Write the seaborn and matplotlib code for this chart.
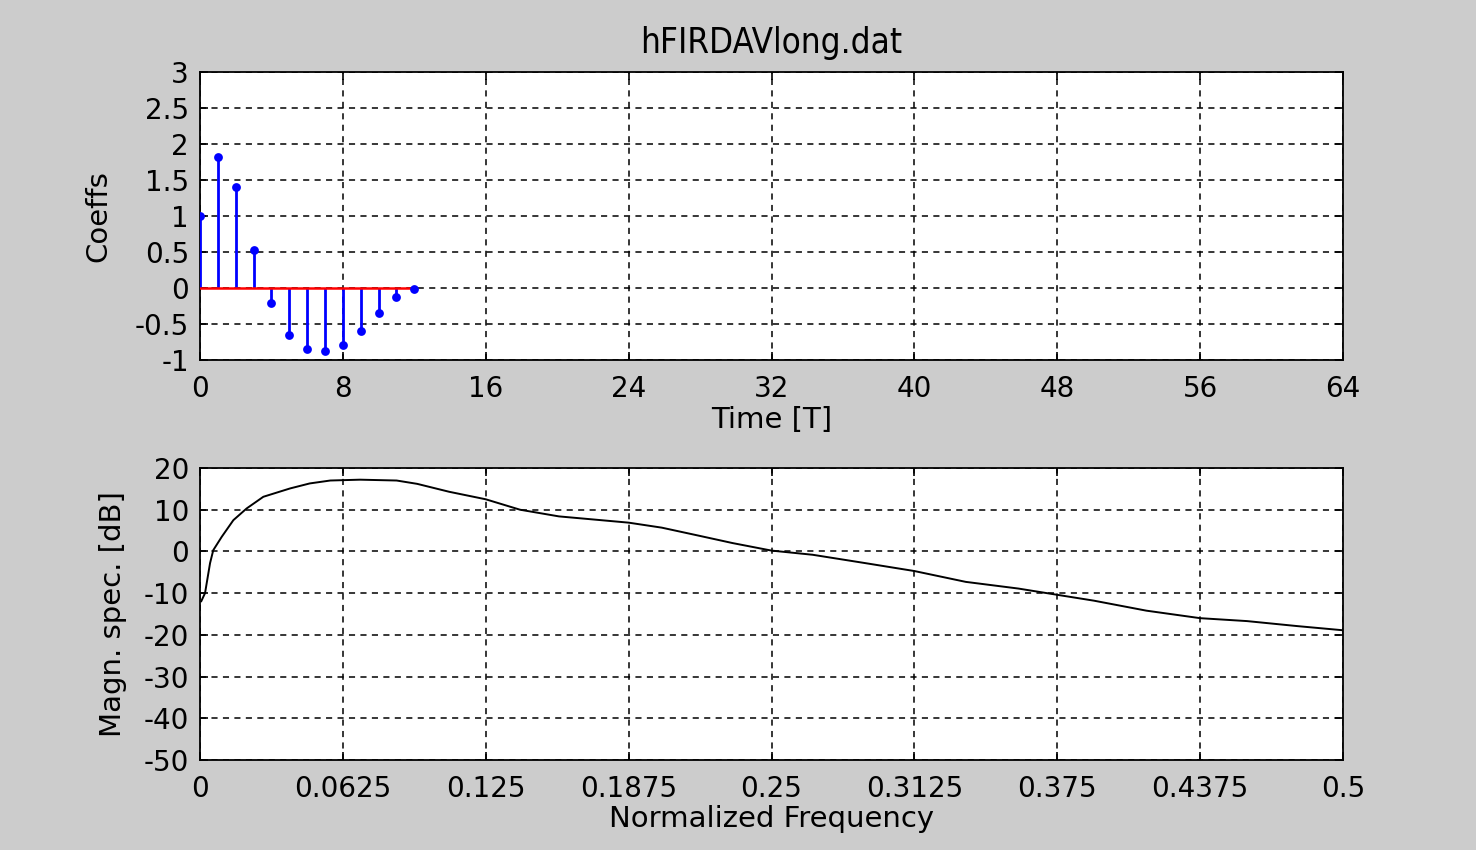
import numpy as np
import pandas as pd
import matplotlib
matplotlib.use("Agg")
import matplotlib.pyplot as plt
import seaborn as sns

# ---- data ----
taps = list(range(13))
coeffs = [1.0, 1.815, 1.40, 0.528, -0.204, -0.657, -0.852, -0.880, -0.796, -0.602, -0.347, -0.125, -0.01]

freq = [0.0005, 0.0022, 0.0044, 0.0058, 0.0095, 0.0146, 0.0204, 0.0277, 0.0394, 0.048, 0.057,
        0.070, 0.086, 0.095, 0.109, 0.125, 0.14, 0.157, 0.1875, 0.202, 0.218, 0.233, 0.25,
        0.268, 0.291, 0.3125, 0.335, 0.358, 0.375, 0.391, 0.414, 0.4375, 0.458, 0.48, 0.5]
mag_db = [-12.0, -10.0, -2.8, 0.3, 3.5, 7.5, 10.3, 13.1, 15.1, 16.3, 17.0,
          17.2, 17.0, 16.2, 14.3, 12.5, 10.0, 8.4, 6.9, 5.7, 3.8, 2.0, 0.2,
          -0.8, -2.8, -4.7, -7.3, -8.9, -10.4, -11.8, -14.2, -16.0, -16.7, -17.9, -18.9]

time_ticks = [0, 8, 16, 24, 32, 40, 48, 56, 64]
coef_ticks = [-1, -0.5, 0, 0.5, 1, 1.5, 2, 2.5, 3]
coef_labels = ["-1", "-0.5", "0", "0.5", "1", "1.5", "2", "2.5", "3"]
freq_ticks = [0, 0.0625, 0.125, 0.1875, 0.25, 0.3125, 0.375, 0.4375, 0.5]
freq_labels = ["0", "0.0625", "0.125", "0.1875", "0.25", "0.3125", "0.375", "0.4375", "0.5"]
db_ticks = [-50, -40, -30, -20, -10, 0, 10, 20]

sns.set_style("white")
plt.rcParams['font.family'] = ['DejaVu Sans']
plt.rcParams['text.color'] = 'black'
plt.rcParams['axes.labelcolor'] = 'black'

W, H = 1476, 850
BG = "#cccccc"
fig = plt.figure(figsize=(W / 100, H / 100), dpi=100, facecolor=BG)

def box(x0, y0, x1, y1):
    return [x0 / W, 1 - y1 / H, (x1 - x0) / W, (y1 - y0) / H]

ax1 = fig.add_axes(box(200, 72, 1343, 360))
ax2 = fig.add_axes(box(200, 468, 1343, 760))

TFS = 20
LFS = 21
grid_kw = dict(color="black", linestyle=(0, (4, 3.5)), linewidth=1.1)

def style(ax):
    ax.set_facecolor("white")
    for s in ax.spines.values():
        s.set_color("black")
        s.set_linewidth(1.3)
        s.set_visible(True)
    ax.tick_params(direction="in", length=6, width=1.2, colors="black",
                   labelsize=TFS, top=True, right=True, bottom=True, left=True)
    ax.grid(True, **grid_kw)
    ax.set_axisbelow(True)

# ---- top: stem plot ----
df1 = pd.DataFrame({"n": taps, "h": coeffs})
ax1.vlines(df1["n"], 0, df1["h"], color="#0000ff", linewidth=2.0, zorder=3)
ax1.plot([taps[0], taps[-1]], [0, 0], color="#ff0000", linewidth=1.8, zorder=3)
sns.scatterplot(data=df1, x="n", y="h", ax=ax1, color="#0000ff", s=40,
                edgecolor="#0000ff", linewidth=0, zorder=4, legend=False)
ax1.set_xlim(0, 64)
ax1.set_ylim(-1, 3)
ax1.set_xticks(time_ticks)
ax1.set_xticklabels([str(t) for t in time_ticks])
ax1.set_yticks(coef_ticks)
ax1.set_yticklabels(coef_labels)
style(ax1)
ax1.tick_params(axis="x", pad=11)
ax1.tick_params(axis="y", pad=8)
ax1.set_xlabel("Time [T]", fontsize=LFS)
ax1.set_ylabel("Coeffs", fontsize=LFS)
ax1.xaxis.set_label_coords(0.5, -0.16)
ax1.yaxis.set_label_coords(-0.077, 0.5)
ax1.set_title("hFIRDAVlong.dat", fontsize=25, fontstretch="condensed", pad=14)

# ---- bottom: magnitude spectrum ----
df2 = pd.DataFrame({"f": freq, "db": mag_db})
sns.lineplot(data=df2, x="f", y="db", ax=ax2, color="black", linewidth=1.4,
             estimator=None, sort=False, zorder=3)
ax2.set_xlim(0, 0.5)
ax2.set_ylim(-50, 20)
ax2.set_xticks(freq_ticks)
ax2.set_xticklabels(freq_labels)
ax2.set_yticks(db_ticks)
ax2.set_yticklabels([str(t) for t in db_ticks])
style(ax2)
ax2.tick_params(axis="x", pad=11)
ax2.tick_params(axis="y", pad=8)
ax2.set_xlabel("Normalized Frequency", fontsize=LFS)
ax2.set_ylabel("Magn. spec. [dB]", fontsize=LFS)
ax2.xaxis.set_label_coords(0.5, -0.155)
ax2.yaxis.set_label_coords(-0.064, 0.5)

fig.savefig("out.png", dpi=100, facecolor=BG)
